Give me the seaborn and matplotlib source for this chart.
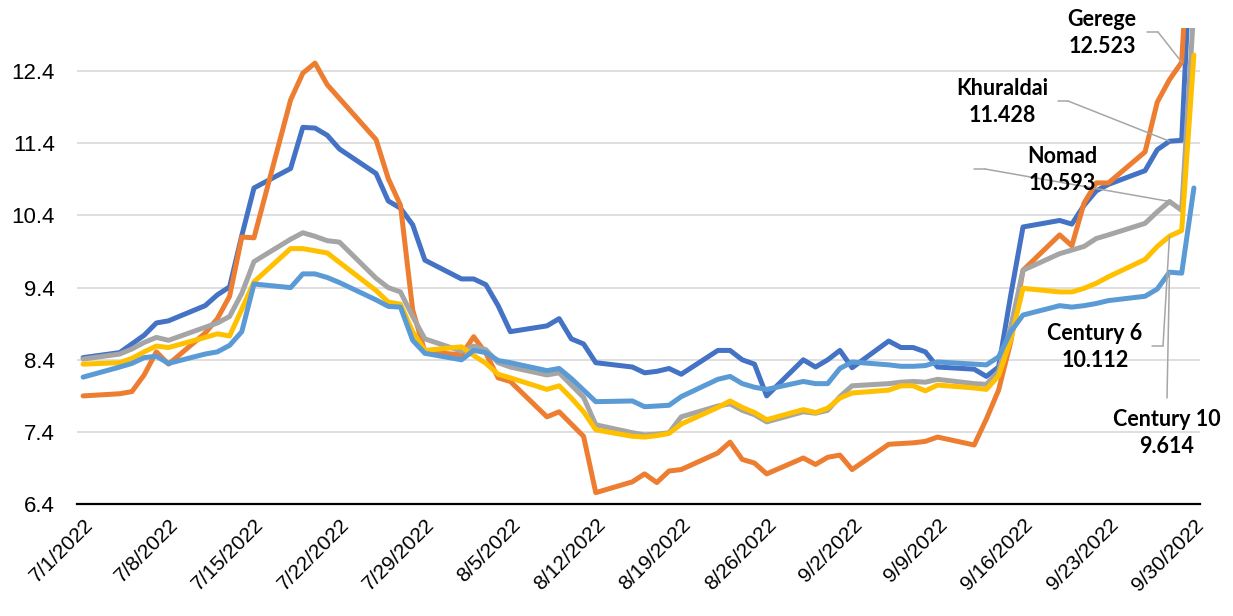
import matplotlib
matplotlib.use("Agg")
import matplotlib.pyplot as plt
from matplotlib.lines import Line2D
import matplotlib.dates as mdates
import seaborn as sns
import pandas as pd

# ---------------- data ----------------
dates = [
    "2022-07-01", "2022-07-04", "2022-07-05", "2022-07-06", "2022-07-07", "2022-07-08",
    "2022-07-11", "2022-07-12", "2022-07-13", "2022-07-14", "2022-07-15",
    "2022-07-18", "2022-07-19", "2022-07-20", "2022-07-21", "2022-07-22",
    "2022-07-25", "2022-07-26", "2022-07-27", "2022-07-28", "2022-07-29",
    "2022-08-01", "2022-08-02", "2022-08-03", "2022-08-04", "2022-08-05",
    "2022-08-08", "2022-08-09", "2022-08-10", "2022-08-11", "2022-08-12",
    "2022-08-15", "2022-08-16", "2022-08-17", "2022-08-18", "2022-08-19",
    "2022-08-22", "2022-08-23", "2022-08-24", "2022-08-25", "2022-08-26",
    "2022-08-29", "2022-08-30", "2022-08-31",
    "2022-09-01", "2022-09-02",
    "2022-09-05", "2022-09-06", "2022-09-07", "2022-09-08", "2022-09-09",
    "2022-09-12", "2022-09-13", "2022-09-14", "2022-09-15", "2022-09-16",
    "2022-09-19", "2022-09-20", "2022-09-21", "2022-09-22", "2022-09-23",
    "2022-09-26", "2022-09-27", "2022-09-28", "2022-09-29", "2022-09-30",
]

khuraldai = [
    8.43, 8.50, 8.62, 8.74, 8.91, 8.94, 9.15, 9.30, 9.41, 10.12, 10.78,
    11.05, 11.62, 11.61, 11.51, 11.32, 10.98, 10.60, 10.50, 10.27, 9.78,
    9.52, 9.52, 9.44, 9.15, 8.79, 8.87, 8.97, 8.69, 8.62, 8.36,
    8.30, 8.22, 8.24, 8.28, 8.20, 8.53, 8.53, 8.40, 8.34, 7.90, 8.40, 8.30, 8.40,
    8.53, 8.29, 8.66, 8.57, 8.57, 8.51, 8.30, 8.27, 8.17, 8.30, 9.30, 10.24,
    10.33, 10.28, 10.54, 10.74, 10.83, 11.02, 11.31, 11.428, 11.44, 15.0,
]
gerege = [
    7.90, 7.93, 7.96, 8.19, 8.51, 8.34, 8.77, 8.97, 9.28, 10.10, 10.09,
    12.00, 12.37, 12.51, 12.21, 12.02, 11.45, 10.91, 10.54, 9.09, 8.51,
    8.47, 8.72, 8.49, 8.15, 8.10, 7.61, 7.68, 7.51, 7.34, 6.56,
    6.71, 6.82, 6.70, 6.86, 6.88, 7.11, 7.26, 7.02, 6.97, 6.82, 7.04, 6.95, 7.05,
    7.08, 6.88, 7.23, 7.24, 7.25, 7.27, 7.33, 7.22, 7.58, 7.98, 8.65, 9.64,
    10.13, 9.98, 10.57, 10.85, 10.85, 11.28, 11.97, 12.28, 12.523, 15.5,
]
nomad = [
    8.41, 8.48, 8.55, 8.64, 8.71, 8.67, 8.85, 8.91, 9.00, 9.32, 9.76,
    10.07, 10.16, 10.11, 10.05, 10.03, 9.53, 9.40, 9.34, 9.00, 8.69,
    8.52, 8.59, 8.54, 8.36, 8.30, 8.19, 8.22, 8.05, 7.88, 7.50,
    7.39, 7.36, 7.37, 7.39, 7.61, 7.76, 7.79, 7.70, 7.64, 7.54, 7.68, 7.66, 7.70,
    7.89, 8.04, 8.07, 8.09, 8.10, 8.09, 8.13, 8.07, 8.06, 8.24, 8.86, 9.64,
    9.87, 9.92, 9.97, 10.08, 10.13, 10.29, 10.45, 10.593, 10.47, 13.3,
]
century6 = [
    8.34, 8.36, 8.42, 8.51, 8.59, 8.57, 8.71, 8.76, 8.73, 9.10, 9.48,
    9.94, 9.94, 9.91, 9.88, 9.75, 9.36, 9.20, 9.17, 8.79, 8.53,
    8.58, 8.46, 8.35, 8.20, 8.15, 7.99, 8.04, 7.87, 7.68, 7.43,
    7.34, 7.33, 7.35, 7.38, 7.51, 7.74, 7.83, 7.74, 7.67, 7.57, 7.71, 7.67, 7.73,
    7.87, 7.94, 7.98, 8.04, 8.04, 7.97, 8.05, 8.01, 7.99, 8.18, 8.68, 9.39,
    9.34, 9.34, 9.39, 9.46, 9.55, 9.79, 9.97, 10.112, 10.19, 12.62,
]
century10 = [
    8.16, 8.30, 8.35, 8.43, 8.45, 8.35, 8.48, 8.51, 8.60, 8.79, 9.45,
    9.40, 9.59, 9.59, 9.54, 9.47, 9.23, 9.14, 9.13, 8.67, 8.49,
    8.40, 8.53, 8.50, 8.39, 8.36, 8.25, 8.28, 8.14, 7.98, 7.82,
    7.83, 7.75, 7.76, 7.77, 7.89, 8.13, 8.17, 8.07, 8.02, 7.99, 8.10, 8.07, 8.07,
    8.28, 8.37, 8.33, 8.31, 8.31, 8.32, 8.37, 8.34, 8.33, 8.44, 8.79, 9.02,
    9.15, 9.13, 9.15, 9.18, 9.22, 9.28, 9.38, 9.614, 9.60, 10.78,
]

series_names = ["Khuraldai", "Gerege", "Nomad", "Century 6", "Century 10"]
series_values = [khuraldai, gerege, nomad, century6, century10]
colors = ["#4472C4", "#ED7D31", "#A5A5A5", "#FFC000", "#5B9BD5"]

xtick_labels = ["7/1/2022", "7/8/2022", "7/15/2022", "7/22/2022", "7/29/2022",
                "8/5/2022", "8/12/2022", "8/19/2022", "8/26/2022", "9/2/2022",
                "9/9/2022", "9/16/2022", "9/23/2022", "9/30/2022"]
ytick_values = [6.4, 7.4, 8.4, 9.4, 10.4, 11.4, 12.4]
ytick_labels = ["6.4", "7.4", "8.4", "9.4", "10.4", "11.4", "12.4"]

# labelled points: series name -> date of labelled value
label_dates = {"Gerege": "2022-09-29", "Khuraldai": "2022-09-28", "Nomad": "2022-09-28",
               "Century 6": "2022-09-28", "Century 10": "2022-09-28"}

# ---------------- frame ----------------
rows = []
for name, vals in zip(series_names, series_values):
    for d, v in zip(dates, vals):
        rows.append({"date": pd.Timestamp(d), "value": v, "series": name})
df = pd.DataFrame(rows)

sns.set_style("white")
plt.rcParams["font.family"] = ["Liberation Sans", "DejaVu Sans"]

W, H = 1233, 616
fig = plt.figure(figsize=(W / 100, H / 100), dpi=100)
ax = fig.add_axes([77 / W, (H - 504.2) / H, 1123 / W, 476.5 / H])

sns.lineplot(data=df, x="date", y="value", hue="series", hue_order=series_names,
             palette=colors, linewidth=3.6, legend=False, ax=ax, estimator=None,
             solid_capstyle="round", solid_joinstyle="round")

ax.set_ylim(6.4, 13.0)
ax.set_xlim(pd.Timestamp(dates[0]) - pd.Timedelta(hours=12),
            pd.Timestamp(dates[-1]) + pd.Timedelta(hours=12))
ax.set_yticks(ytick_values)
ax.set_yticklabels(ytick_labels)
xt = pd.to_datetime(xtick_labels, format="%m/%d/%Y")
ax.set_xticks(xt)
ax.set_xticklabels(xtick_labels, rotation=45, ha="right", rotation_mode="anchor")
ax.set_xlabel("")
ax.set_ylabel("")

ax.yaxis.grid(True, color="#D9D9D9", linewidth=1.2)
ax.xaxis.grid(False)
ax.set_axisbelow(True)
for s in ["left", "top", "right"]:
    ax.spines[s].set_visible(False)
ax.spines["bottom"].set_color("black")
ax.spines["bottom"].set_linewidth(1.6)
ax.spines["bottom"].set_zorder(5)
ax.tick_params(axis="y", length=0, pad=16, labelsize=16, labelcolor="black")
ax.tick_params(axis="x", length=0, pad=8, labelsize=15, labelcolor="black")

# ---------------- data labels ----------------
def fx(x):
    return x / W

def fy(y):
    return 1 - y / H

label_layout = {
    # name: (text center, leader start points in image pixels)
    "Gerege": ((1102, 33), [(1147, 32), (1158, 32)]),
    "Khuraldai": ((1002, 102), [(1058, 101), (1068, 101)]),
    "Nomad": ((1062, 170), [(974, 169), (985, 169)]),
    "Century 6": ((1095, 347), [(1152, 346), (1163, 346)]),
    "Century 10": ((1167, 433), [(1167, 398)]),
}
lead_col = "#A6A6A6"
for name, vals in zip(series_names, series_values):
    d = label_dates[name]
    v = vals[dates.index(d)]
    (cx, cy), pts = label_layout[name]
    fig.text(fx(cx), fy(cy), f"{name}\n{v:.3f}", ha="center", va="center",
             fontsize=15.5, fontweight="bold", family=["Lato", "DejaVu Sans"],
             linespacing=1.38, color="black")
    if len(pts) > 1:
        fig.add_artist(Line2D([fx(p[0]) for p in pts], [fy(p[1]) for p in pts],
                              transform=fig.transFigure, color=lead_col, lw=1.1))
    ex, ey = pts[-1]
    ax.annotate("", xy=(mdates.date2num(pd.Timestamp(d)), v), xycoords="data",
                xytext=(fx(ex), fy(ey)), textcoords="figure fraction",
                arrowprops=dict(arrowstyle="-", color=lead_col, lw=1.1,
                                shrinkA=0, shrinkB=0))

fig.savefig("out.png", dpi=100)
